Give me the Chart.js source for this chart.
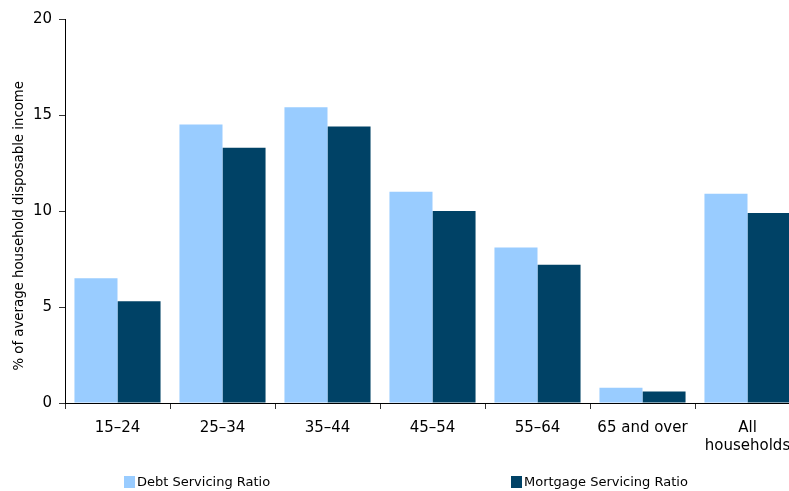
<!DOCTYPE html>
<html>
<head>
<meta charset="utf-8">
<script src="https://cdn.jsdelivr.net/npm/chart.js@4/dist/chart.umd.min.js"></script>
<style>
  html, body { margin: 0; padding: 0; background: #fff; overflow: hidden; }
  #wrap { width: 810px; height: 491px; }
</style>
</head>
<body>
<div id="wrap"><canvas id="c" width="810" height="491"></canvas></div>
<script>
const categories = ["15–24", "25–34", "35–44", "45–54", "55–64", "65 and over", ["All", "households"]];
const debtServicingRatio = [6.5, 14.5, 15.4, 11.0, 8.1, 0.8, 10.9];
const mortgageServicingRatio = [5.3, 13.3, 14.4, 10.0, 7.2, 0.6, 9.9];
const seriesNames = ["Debt Servicing Ratio", "Mortgage Servicing Ratio"];
const yTicks = [0, 5, 10, 15, 20];
const yTitle = "% of average household disposable income";

const FONT = "'DejaVu Sans', Verdana, sans-serif";

const bottomLegend = {
  id: 'bottomLegend',
  afterDraw(chart) {
    const ctx = chart.ctx;
    const xs = [124, 511];
    const y = 482;
    ctx.save();
    ctx.font = "13px " + FONT;
    ctx.textBaseline = 'middle';
    ctx.textAlign = 'left';
    chart.data.datasets.forEach((ds, i) => {
      ctx.fillStyle = ds.backgroundColor;
      ctx.fillRect(xs[i], y - 6, 11, 12);
      ctx.fillStyle = '#000';
      ctx.fillText(ds.label, xs[i] + 13, y + 1);
    });
    ctx.restore();
  }
};

new Chart(document.getElementById('c'), {
  type: 'bar',
  data: {
    labels: categories,
    datasets: [
      { label: seriesNames[0], data: debtServicingRatio, backgroundColor: '#99CCFF' },
      { label: seriesNames[1], data: mortgageServicingRatio, backgroundColor: '#004266' }
    ]
  },
  options: {
    responsive: false,
    devicePixelRatio: 1,
    animation: false,
    layout: { padding: { top: 19, left: 0, right: 10, bottom: 0 } },
    datasets: { bar: { categoryPercentage: 0.82, barPercentage: 1.0 } },
    plugins: {
      legend: { display: false },
      tooltip: { enabled: false }
    },
    scales: {
      x: {
        afterFit: (s) => { s.height = 88; },
        grid: { display: true, drawOnChartArea: false, drawTicks: true, tickLength: 6, color: '#333', offset: true },
        border: { display: true, color: '#000', width: 1 },
        ticks: { color: '#000', font: { family: FONT, size: 15 }, padding: 10, maxRotation: 0, autoSkip: false }
      },
      y: {
        min: 0, max: 20,
        afterFit: (s) => { s.width = 65; },
        afterBuildTicks: (s) => { s.ticks = yTicks.map(v => ({ value: v })); },
        grid: { display: true, drawOnChartArea: false, drawTicks: true, tickLength: 6, color: '#333' },
        border: { display: true, color: '#000', width: 1 },
        ticks: { color: '#000', font: { family: FONT, size: 15 }, padding: 7 },
        title: { display: true, text: yTitle + "       ", color: '#000', font: { family: FONT, size: 13.3 }, padding: { top: 12, bottom: 0 } }
      }
    }
  },
  plugins: [bottomLegend]
});
</script>
</body>
</html>
